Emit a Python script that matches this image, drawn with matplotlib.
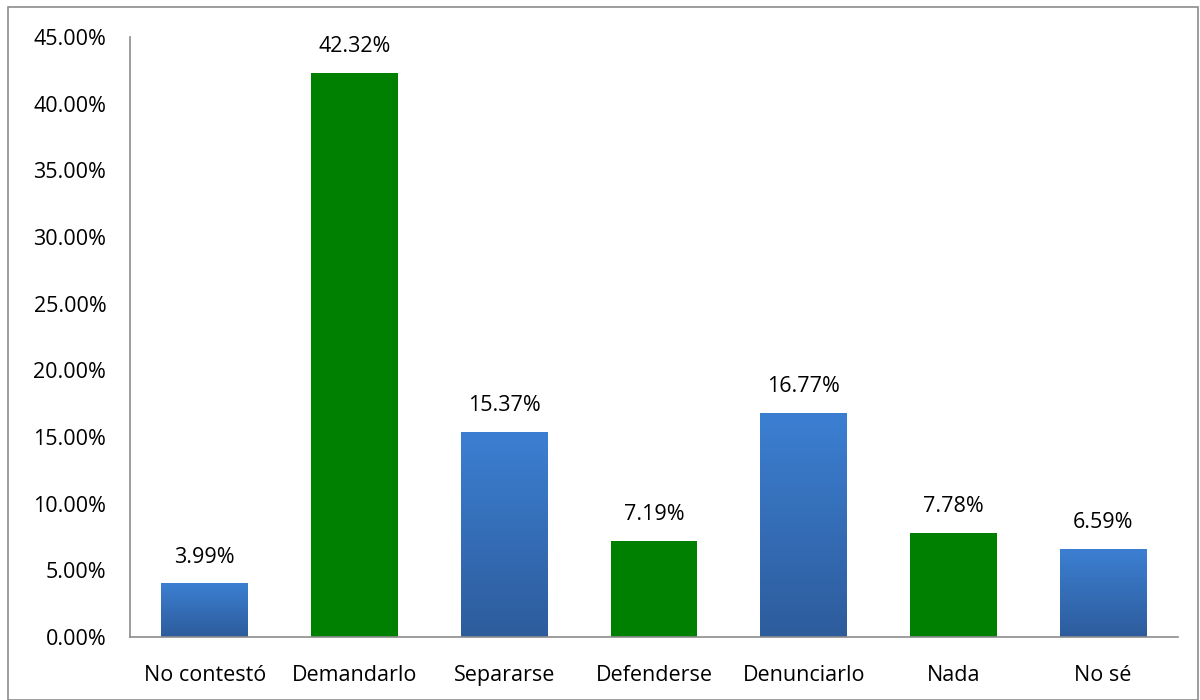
import matplotlib
matplotlib.use("Agg")
from matplotlib import pyplot as plt
from matplotlib.patches import Rectangle
from matplotlib.ticker import FuncFormatter
import numpy as np

categorias = ['No contestó', 'Demandarlo', 'Separarse', 'Defenderse', 'Denunciarlo', 'Nada', 'No sé']
valores = [3.99, 42.32, 15.37, 7.19, 16.77, 7.78, 6.59]
es_verde = [False, True, False, True, False, True, False]

plt.rcParams['font.family'] = ['Open Sans', 'DejaVu Sans']

fig = plt.figure(figsize=(12, 7), dpi=100)
ax = fig.add_axes([0.1083, 0.09, 0.8734, 0.857])

# borde gris de la figura
fig.patches.append(Rectangle((0.007, 0.0), 0.991, 0.99, transform=fig.transFigure,
                             fill=False, edgecolor='#8c8c8c', linewidth=1.2))

x = np.arange(len(categorias))
ancho = 0.58
degradado = np.linspace(0, 1, 256).reshape(-1, 1)
azul = matplotlib.colors.LinearSegmentedColormap.from_list('azul', ['#2d5c9c', '#3c7fd2'])

barras = ax.bar(x, valores, width=ancho, color='none', edgecolor='none')
for b, v, verde in zip(barras, valores, es_verde):
    x0 = b.get_x()
    if verde:
        ax.add_patch(Rectangle((x0, 0), ancho, v, facecolor='#008000', edgecolor='none', zorder=2))
    else:
        ax.imshow(degradado, extent=(x0, x0 + ancho, 0, v), origin='lower', cmap=azul,
                  aspect='auto', zorder=2)
    ax.text(x0 + ancho / 2, v + 1.2, '%.2f%%' % v, ha='center', va='bottom', fontsize=15.5)

ax.set_xlim(-0.5, len(categorias) - 0.5)
ax.set_ylim(0, 45)
ax.set_yticks(np.arange(0, 46, 5))
ax.yaxis.set_major_formatter(FuncFormatter(lambda v, p: '%.2f%%' % v))
ax.set_xticks(x)
ax.set_xticklabels(categorias)
ax.tick_params(axis='both', length=0, labelsize=15.5)
ax.tick_params(axis='y', pad=17)
ax.tick_params(axis='x', pad=20)
for s in ['top', 'right']:
    ax.spines[s].set_visible(False)
for s in ['left', 'bottom']:
    ax.spines[s].set_color('#8c8c8c')
    ax.spines[s].set_linewidth(1.2)

fig.savefig('out.png', dpi=100)
